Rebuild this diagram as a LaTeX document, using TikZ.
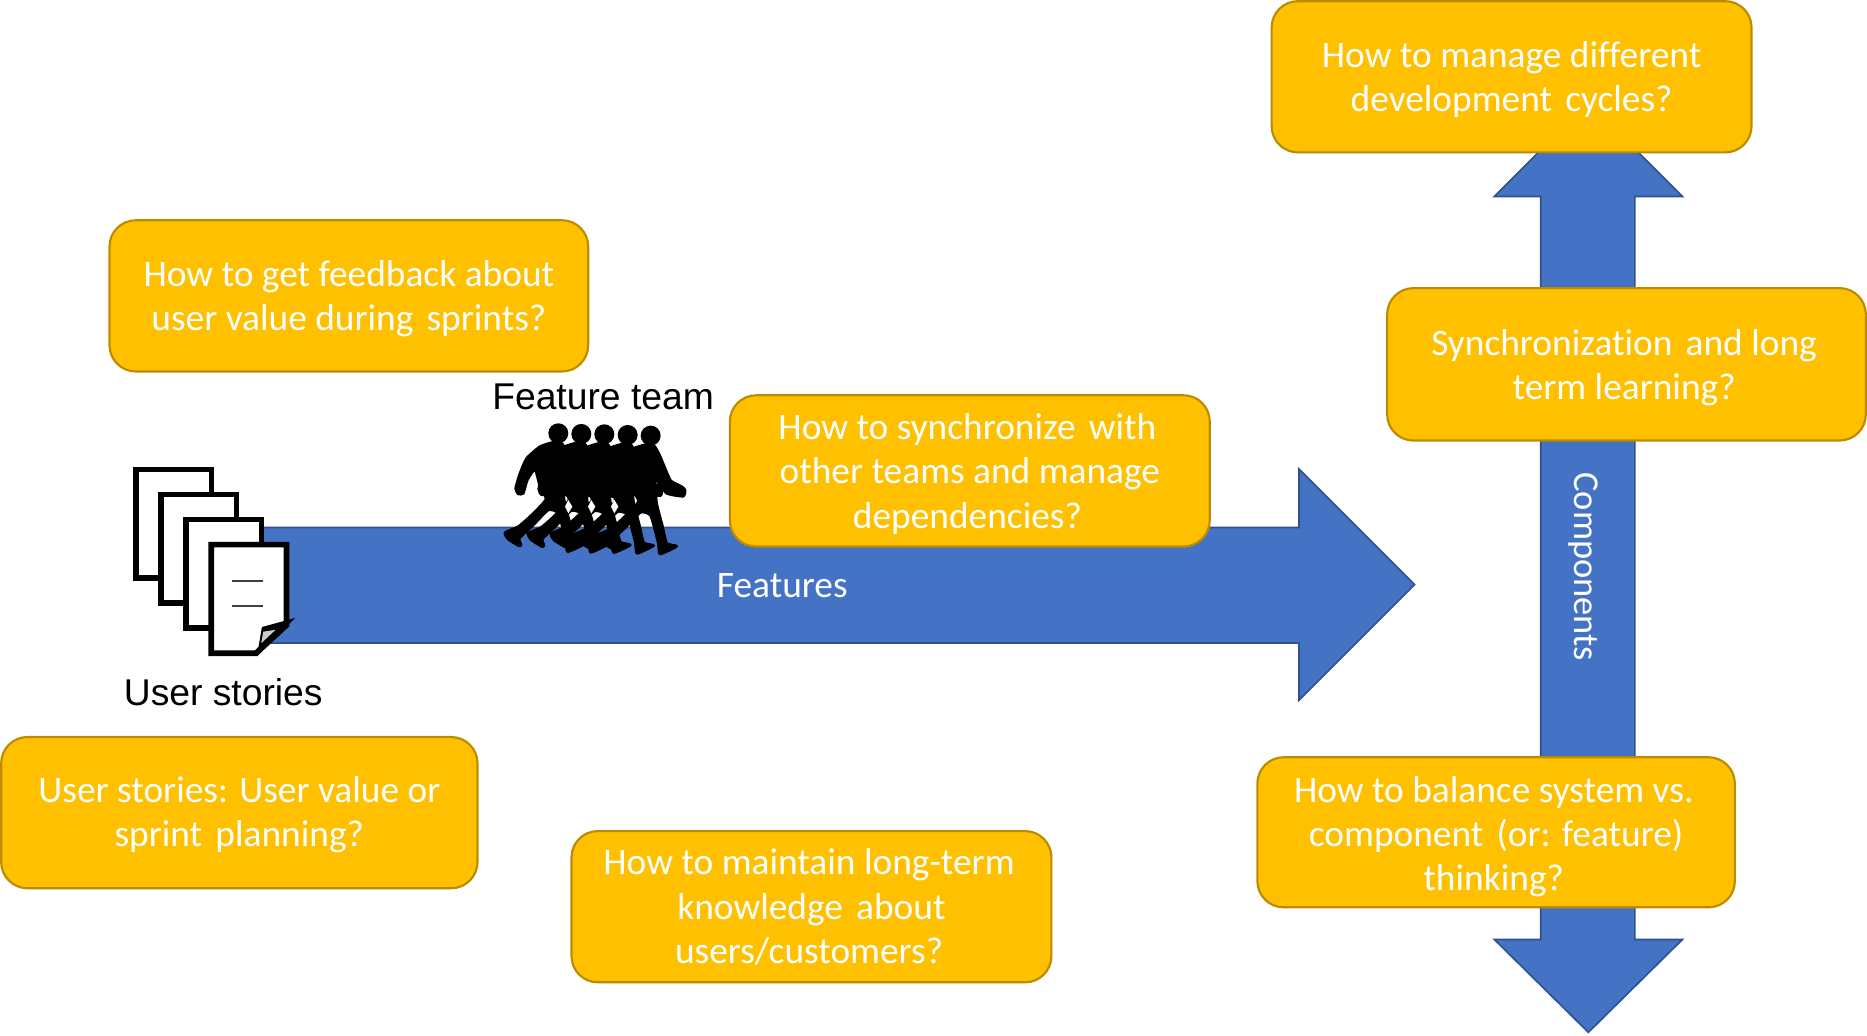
\documentclass[tikz,border=0pt]{standalone}
\usepackage{fontspec}
\setmainfont[Ligatures=CommonOff]{Carlito}
\newfontfamily\arialf{Liberation Sans}
\definecolor{qfill}{HTML}{FFC000}
\definecolor{qedge}{HTML}{BC8C00}
\definecolor{afill}{HTML}{4472C4}
\definecolor{aedge}{HTML}{2F528F}
\newcommand{\dropline}{\rule{0pt}{13.5pt}}
\newcommand{\wsp}{\hspace{2pt}}
\newcommand{\lsh}{\hspace*{2pt}}
\newcommand{\walker}[2]{%
  \begin{scope}[shift={(#1,#2)}]
    \fill[black] (205,70) circle (30);
    \filldraw[black, line width=1.1pt, line join=round] plot[smooth cycle, tension=0.3] coordinates {
      (190,97) (150,110) (110,145) (90,190) (77,235) (85,252) (100,250) (112,210) (135,178)
      (150,230) (168,268) (125,315) (85,350) (45,368) (55,388) (88,408) (93,403) (88,385)
      (130,345) (175,300) (205,310) (228,393) (233,425) (283,402) (253,393)
      (240,340) (223,273) (218,200) (253,243) (303,252) (308,233) (298,223) (265,205)
      (245,160) (230,125) (215,100)};
  \end{scope}}
\tikzset{
  qbox/.style={draw=qedge, fill=qfill, line width=0.9pt, rounded corners=11pt, text=white,
    align=center, inner sep=0pt, font=\fontsize{15.7}{18.5}\selectfont},
  bigarrow/.style={draw=aedge, fill=afill, line width=0.7pt, line join=miter},
  arrowlabel/.style={text=white, inner sep=0pt, font=\fontsize{15.7}{18.5}\selectfont},
  blacklabel/.style={text=black, inner sep=0pt, font=\fontsize{15.65}{19}\arialf},
  docsheet/.style={draw=black, fill=white, line width=2.4pt, line join=miter}
}
\begin{document}
\begin{tikzpicture}[x=0.5pt,y=-0.5pt]
\useasboundingbox (0,0) rectangle (1568,870);
% arrows
\draw[bigarrow] (200,443) -- (1091,443) -- (1091,394) -- (1188,491) -- (1091,588) -- (1091,540) -- (200,540) -- cycle;
\draw[bigarrow] (1334,86) -- (1413,165) -- (1373,165) -- (1373,789) -- (1413,789) -- (1334,867) -- (1255,789) -- (1294,789) -- (1294,165) -- (1255,165) -- cycle;
\node[arrowlabel] (features) at (657,492) {Features};
\node[arrowlabel, rotate=-90, font=\fontsize{15.3}{18.5}\selectfont] (components) at (1330,476) {Components};
% documents
\draw[docsheet] (114.4,394.4) rectangle (177.6,485.6);
\draw[docsheet] (135.4,415.4) rectangle (198.6,506.6);
\draw[docsheet] (156.4,436.4) rectangle (219.6,527.6);
\draw[docsheet] (177.4,457.4) -- (240.6,457.4) -- (240.6,525) -- (215,548.6) -- (177.4,548.6) -- cycle;
\fill[black] (215.8,551) -- (247.9,519) -- (220,526.6) -- cycle;
\fill[gray!40] (221.1,530.5) -- (231.4,529) -- (219.4,540.2) -- cycle;
\draw[black!75, line width=0.6pt] (195,488) -- (221,488) (195,509) -- (221,509);
% team
\begin{scope}[shift={(411.5,344.3)}, x=0.14pt, y=-0.14pt]
  \walker{0}{0}\walker{69}{2}\walker{138}{3}\walker{208}{5}\walker{277}{7}
  \foreach \dx in {0,69,138}
    \fill[white] (235+\dx,270) -- (247+\dx,290) -- (235+\dx,310) -- (225+\dx,290) -- cycle;
\end{scope}
\node[blacklabel] (teamlabel) at (506.5,333) {Feature team};
\node[blacklabel] (storylabel) at (187.5,581) {User stories};
% question boxes
\node[qbox, minimum width=201.5pt, minimum height=63.5pt] (b1) at (1269.5,64.5) {\dropline How to manage different\\development\wsp\ cycles?};
\node[qbox, minimum width=201pt, minimum height=64pt] (b2) at (1366,306) {\dropline Synchronization\wsp\ and long\lsh\\term learning?\lsh};
\node[qbox, minimum width=201pt, minimum height=63.5pt] (b3) at (293,248.5) {\dropline How to get feedback about\\user value during\wsp\ sprints?};
\node[qbox, minimum width=201.5pt, minimum height=63.5pt] (b4) at (814.5,395.5) {\dropline How to synchronize\wsp\ with\lsh\\other teams and manage\lsh\\dependencies?\lsh};
\node[qbox, minimum width=200pt, minimum height=63.5pt] (b5) at (201,682.5) {\rule{0pt}{12.5pt}User stories: User value or\\sprint\wsp\ planning?};
\node[qbox, minimum width=201.5pt, minimum height=63.5pt] (b6) at (681.5,761.5) {\rule{0pt}{11pt}How to maintain long-term\lsh\\knowledge\wsp\ about\lsh\\users/customers?\lsh};
\node[qbox, minimum width=200.5pt, minimum height=63pt] (b7) at (1256.5,699) {\rule{0pt}{14.5pt}How to balance system vs.\lsh\\component\wsp\ (or: feature)\lsh\\thinking?\lsh};
\end{tikzpicture}
\end{document}
